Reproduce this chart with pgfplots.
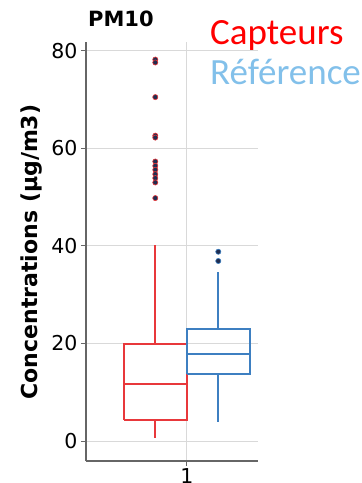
\documentclass[border=0pt]{standalone}
\usepackage{pgfplots}
\pgfplotsset{compat=1.18}
\usepackage{fontspec}
\setmainfont{DejaVu Sans}
\newfontfamily\legfont{Carlito}
\definecolor{boxred}{HTML}{E8383B}
\definecolor{boxblue}{HTML}{3D7FC1}
\definecolor{legred}{HTML}{FF0000}
\definecolor{legblue}{HTML}{82C0EA}
\definecolor{outdark}{HTML}{1F2D50}
\begin{document}
\begin{tikzpicture}
\useasboundingbox (-86pt,-22pt) rectangle (276pt,461pt);
\begin{axis}[
  at={(0,0)}, anchor=south west,
  scale only axis, width=172pt, height=419pt,
  xmin=0.2, xmax=1.565, ymin=-4.1, ymax=81.8,
  axis lines*=left,
  axis line style={draw=black!60, line width=1.4pt},
  xtick={1}, ytick={0,20,40,60,80},
  tick style={draw=black!60, line width=0.9pt},
  tick align=outside, major tick length=5pt,
  grid=major, grid style={draw=black!15, line width=1pt},
  tick label style={font=\fontsize{20.5}{22}\selectfont},
  xticklabel style={inner sep=0pt, yshift=-2pt},
  /pgf/number format/assume math mode=true,
  clip=false,
]
% Capteurs (red): box Q1=4.3, Q3=19.9, median=11.7, whiskers 0.6 / 40.2
\addplot[draw=boxred, line width=1.8pt] coordinates {(0.5,4.3) (1.0,4.3) (1.0,19.9) (0.5,19.9) (0.5,4.3)};
\addplot[draw=boxred, line width=2.6pt] coordinates {(0.5,11.7) (1.0,11.7)};
\addplot[draw=boxred, line width=2pt] coordinates {(0.75,19.9) (0.75,40.2)};
\addplot[draw=boxred, line width=2pt] coordinates {(0.75,4.3) (0.75,0.6)};
% Reference (blue): box Q1=13.8, Q3=22.9, median=17.8, whiskers 3.8 / 34.7
\addplot[draw=boxblue, line width=1.8pt] coordinates {(1.0,13.8) (1.5,13.8) (1.5,22.9) (1.0,22.9) (1.0,13.8)};
\addplot[draw=boxblue, line width=2.6pt] coordinates {(1.0,17.8) (1.5,17.8)};
\addplot[draw=boxblue, line width=2pt] coordinates {(1.25,22.9) (1.25,34.7)};
\addplot[draw=boxblue, line width=2pt] coordinates {(1.25,13.8) (1.25,3.8)};
% outliers
\addplot[only marks, mark=*, mark size=2.6pt, mark options={fill=outdark, draw=boxred, line width=0.6pt}]
  coordinates {(0.75,78.2) (0.75,77.6) (0.75,70.5) (0.75,62.6) (0.75,62.2)
  (0.75,57.3) (0.75,56.4) (0.75,55.6) (0.75,54.7) (0.75,53.9) (0.75,53.0) (0.75,49.8)};
\addplot[only marks, mark=*, mark size=2.6pt, mark options={fill=outdark, draw=boxblue, line width=0.6pt}]
  coordinates {(1.25,38.8) (1.25,36.9)};
\end{axis}
\node[rotate=90, inner sep=0pt, font=\fontsize{22}{24}\selectfont\bfseries] at (-54pt,209pt) {Concentrations (µg/m3)};
\node[anchor=base west, inner sep=0pt, font=\fontsize{21}{23}\selectfont\bfseries] at (2pt,434.3pt) {PM10};
\node[anchor=base west, inner sep=0pt, text=legred, font=\legfont\fontsize{37}{40}\selectfont] at (124pt,416pt) {Capteurs};
\node[anchor=base west, inner sep=0pt, text=legblue, font=\legfont\fontsize{37}{40}\selectfont] at (124pt,376pt) {Référence};
\end{tikzpicture}
\end{document}
